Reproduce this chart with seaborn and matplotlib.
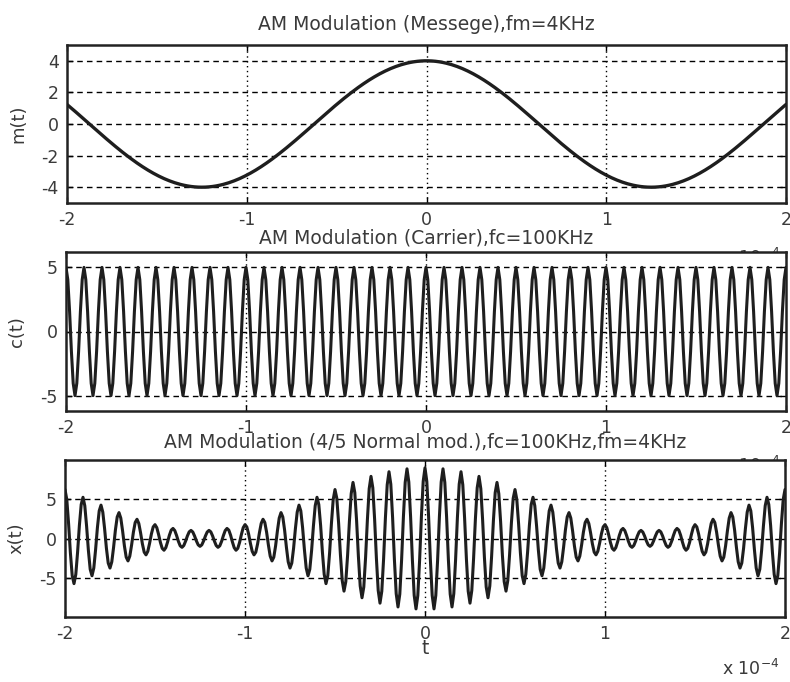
import numpy as np
import pandas as pd
import matplotlib
matplotlib.use("Agg")
import matplotlib.pyplot as plt
import seaborn as sns

# Signal parameters (as stated in the panel titles)
fm_hz = 4000.0          # message frequency
fc_hz = 100000.0        # carrier frequency
msg_amp = 4.0           # message amplitude
carrier_amp = 5.0       # carrier amplitude
t_start, t_stop, t_step = -2e-4, 2e-4, 1e-6

x_ticks = [-2, -1, 0, 1, 2]
m_ticks = [-4, -2, 0, 2, 4]
c_ticks = [-5, 0, 5]
x_ticks3 = [-5, 0, 5]

titles = [
    "AM Modulation (Messege),fm=4KHz",
    "AM Modulation (Carrier),fc=100KHz",
    "AM Modulation (4/5 Normal mod.),fc=100KHz,fm=4KHz",
]
ylabels = ["m(t)", "c(t)", "x(t)"]

t = np.arange(t_start, t_stop + t_step / 2, t_step)
m = msg_amp * np.cos(2 * np.pi * fm_hz * t)
c = carrier_amp * np.cos(2 * np.pi * fc_hz * t)
x = (carrier_amp + m) * np.cos(2 * np.pi * fc_hz * t)

df = pd.DataFrame({"t": t * 1e4, "m": m, "c": c, "x": x})

sns.set_style("white")
plt.rcParams["font.family"] = ["DejaVu Sans"]

W, H = 790, 682
fig = plt.figure(figsize=(W / 100, H / 100), dpi=100)

def box(left, top, right, bottom):
    return [left / W, 1 - bottom / H, (right - left) / W, (bottom - top) / H]

specs = [
    dict(rect=box(67, 45, 786, 203), col="m", ylim=(-5, 5), yt=m_ticks, pad=11),
    dict(rect=box(66, 252, 786, 411), col="c", ylim=(-6.2, 6.2), yt=c_ticks, pad=6),
    dict(rect=box(65, 460, 785, 617), col="x", ylim=(-10, 10), yt=x_ticks3, pad=9),
]

text_color = "#3a3a3a"
line_color = "#1e1e1e"
for i, s in enumerate(specs):
    ax = fig.add_axes(s["rect"])
    ax.set_facecolor("white")
    sns.lineplot(data=df, x="t", y=s["col"], ax=ax, color=line_color,
                 linewidth=2.4 if i == 0 else 2.2, estimator=None, zorder=3)
    ax.set_xlim(-2, 2)
    ax.set_ylim(*s["ylim"])
    ax.set_xticks(x_ticks)
    ax.set_xticklabels([str(v) for v in x_ticks])
    ax.set_yticks(s["yt"])
    ax.set_yticklabels([str(v) for v in s["yt"]])
    for yv in s["yt"]:
        ax.axhline(yv, color="black", linewidth=1.0, linestyle=(0, (4, 3)), zorder=2)
    for xv in [-1, 0, 1]:
        ax.axvline(xv, color="black", linewidth=1.0, linestyle=(0, (1, 2.5)), zorder=2)
    ax.tick_params(direction="in", length=4, width=1, labelsize=12.5, colors="black",
                   labelcolor=text_color, pad=6, top=True, right=True,
                   bottom=True, left=True)
    for sp in ax.spines.values():
        sp.set_color("#222222")
        sp.set_linewidth(1.8)
    ax.set_title(titles[i], fontsize=13.5, color=text_color, pad=s["pad"])
    ax.set_ylabel(ylabels[i], fontsize=13, color=text_color, labelpad=10)
    ax.set_xlabel("t" if i == 2 else "", fontsize=13.5, color=text_color, labelpad=-3)
    # exponent of the time axis, below the right end of each panel
    ax.text(0.992, -0.27 if i == 2 else -0.285, r"x 10$^{-4}$", transform=ax.transAxes,
            ha="right", va="top", fontsize=12.5, color=text_color, clip_on=False)

fig.savefig("out.png", dpi=100, facecolor="white")
